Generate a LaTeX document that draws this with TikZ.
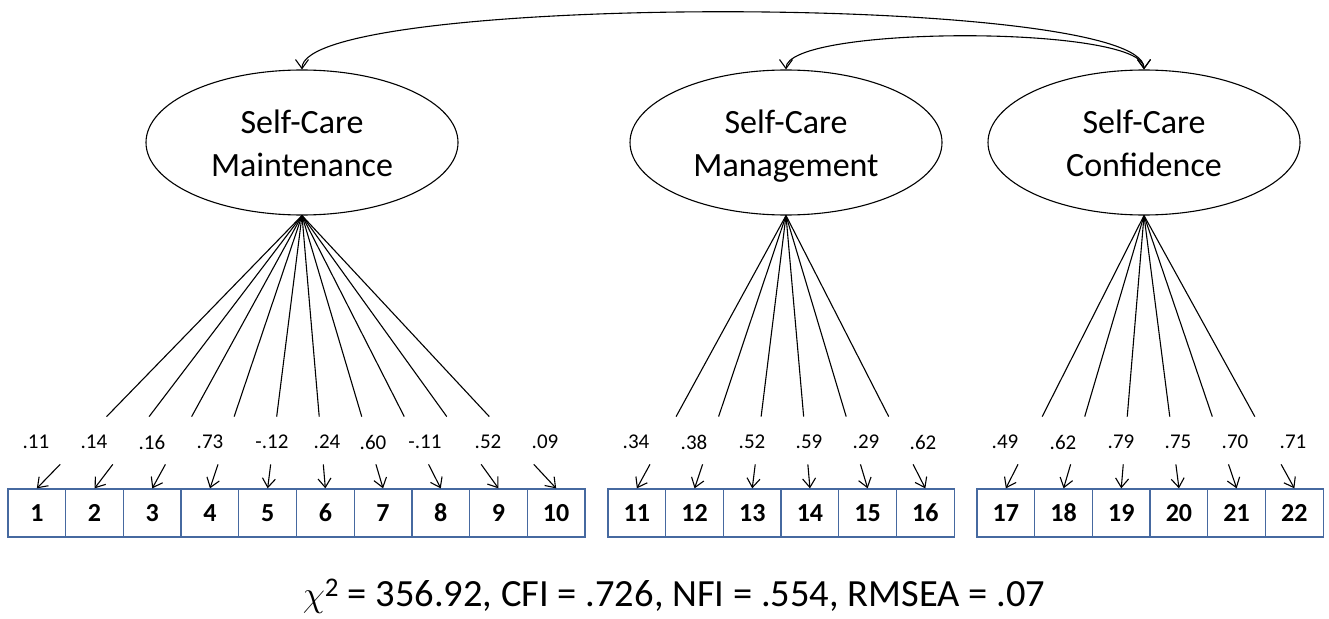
\documentclass[tikz,border=0pt]{standalone}
\usepackage{fontspec}
\setmainfont{Carlito}
\usetikzlibrary{arrows.meta,calc,shapes.geometric}
\definecolor{boxblue}{RGB}{70,105,160}
\newcommand{\toprule}{\rule{0pt}{38pt}}
\begin{document}
\begin{tikzpicture}[x=1pt,y=-1pt,
  latent/.style={ellipse,draw,line width=1.1pt,minimum width=312pt,minimum height=145pt,inner sep=0pt,align=center,font=\fontsize{34}{43}\selectfont},
  item/.style={rectangle,draw=boxblue,line width=1.3pt,minimum width=57.7pt,minimum height=48pt,inner sep=0pt,font=\fontsize{26}{30}\selectfont\bfseries},
  load/.style={font=\fontsize{21}{24}\selectfont,inner sep=0pt},
  link/.style={line width=1.1pt},
  vtip/.style={-{Straight Barb[length=9pt,width=13pt,line width=1.1pt]}},
  bothtip/.style={{Straight Barb[length=9pt,width=13pt,line width=1.1pt]}-{Straight Barb[length=9pt,width=13pt,line width=1.1pt]}}]
\useasboundingbox (0,0) rectangle (1329,618);
\fill[white] (0,0) rectangle (1329,618);

% latent factors
\node[latent] (M) at (302,142.5) {\toprule Self-Care\\\strut Maintenance};
\node[latent] (G) at (786,142.5) {\toprule Self-Care\\\strut Management};
\node[latent] (C) at (1144,142.5) {\toprule Self-Care\\\strut Confidence};

% covariances
\draw[link,bothtip] (C.north) .. controls (1144,-7) and (302,-7) .. (M.north);
\draw[link,bothtip] (C.north) .. controls (1144,25) and (786,25) .. (G.north);

% items
\foreach \i in {1,...,10} \node[item] (b\i) at ({8+57.7*(\i-0.5)},513) {\i};
\foreach \i in {11,...,16} \node[item] (b\i) at ({608+57.7*(\i-10.5)},513) {\i};
\foreach \i in {17,...,22} \node[item] (b\i) at ({977+57.7*(\i-16.5)},513) {\i};

% loadings lines and error arrows
\foreach \f/\a/\z in {M/1/10,G/11/16,C/17/22}{
  \foreach \i in {\a,...,\z}{
    \draw[link] (\f.south) -- ($(\f.south)!0.737!(b\i.north)$);
    \draw[link,vtip] ($(\f.south)!0.912!(b\i.north)$) -- (b\i.north);
  }
}

% labels
\foreach \i/\x/\t in {1/36/.11,2/94/.14,3/152/.16,4/210/.73,5/272/-.12,6/327/.24,7/373/.60,8/425/-.11,9/488/.52,10/545/.09,
  11/636/.34,12/694/.38,13/752/.52,14/809/.59,15/866/.29,16/923/.62,
  17/1005/.49,18/1063/.62,19/1121/.79,20/1178/.75,21/1235/.70,22/1293/.71}
  \node[load] (l\i) at (\x,442) {\t};

% fit statistics
\node[font=\fontsize{38.5}{46}\selectfont,anchor=base,inner sep=0pt] (fit) at (674,606) {\scalebox{1.45}{$\chi$}\textsuperscript{2} = 356.92, CFI = .726, NFI = .554, RMSEA = .07};
\end{tikzpicture}
\end{document}
